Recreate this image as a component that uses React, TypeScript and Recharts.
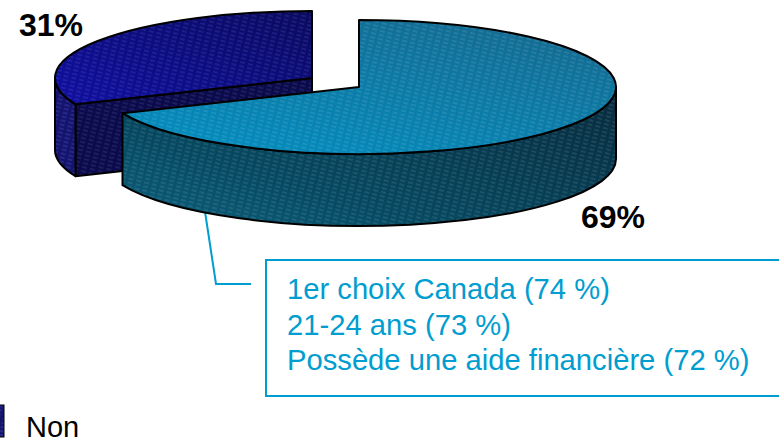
import { PieChart, Pie } from 'recharts';

const categories = ['Non', 'Oui'];
// estimated so the cut edges land where the picture has them; printed labels are rounded
const shares = [31.4, 68.6];
const shareLabels = ['31%', '69%'];
const calloutLines = ['1er choix Canada (74 %)', '21-24 ans (73 %)', 'Possède une aide financière (72 %)'];

const RY_RATIO = 67 / 257;
const DEPTH = 72;
const FONT = '"Liberation Sans", Arial, sans-serif';
const CALLOUT = '#009DD0';
const RAD = Math.PI / 180;

const chartData = categories.map((name, i) => ({ name, value: shares[i] }));
const startAngle = 90 + shares[0] * 3.6;

// the Non slice is pulled away from the centre
const explode = [{ dx: -47, dy: -9 }, { dx: 0, dy: 0 }];
const labelPos = [{ x: 51, y: 36 }, { x: 613, y: 228 }];
const paints = [
  { top: 'url(#topNon)', wall: 'url(#wallNon)' },
  { top: 'url(#topOui)', wall: 'url(#wallOui)' },
];

// squashed circle, angles as recharts gives them (counter-clockwise from 3 o'clock)
const pt = (cx: number, cy: number, r: number, a: number, dy = 0) => ({
  x: cx + r * Math.cos(a * RAD),
  y: cy - r * RY_RATIO * Math.sin(a * RAD) + dy,
});

const arc = (cx: number, cy: number, r: number, from: number, to: number, dy = 0) => {
  const end = pt(cx, cy, r, to, dy);
  const large = Math.abs(from - to) > 180 ? 1 : 0;
  const sweep = to < from ? 1 : 0;
  return `A${r} ${r * RY_RATIO} 0 ${large} ${sweep} ${end.x} ${end.y}`;
};

const wallPath = (ox: number, oy: number, r: number, from: number, to: number) => {
  const ps = pt(ox, oy, r, from);
  const pe = pt(ox, oy, r, to);
  return (
    `M${ps.x} ${ps.y}` + arc(ox, oy, r, from, to) +
    `L${pe.x} ${pe.y + DEPTH}` + arc(ox, oy, r, to, from, DEPTH) + 'Z'
  );
};

const Slice3D = (props: any) => {
  const { cx, cy, outerRadius: r, startAngle: sa, endAngle: ea, index } = props;
  const ox = cx + explode[index].dx;
  const oy = cy + explode[index].dy;
  const p = paints[index];
  const a = pt(ox, oy, r, sa);
  const stroke = { stroke: '#000', strokeWidth: 2, strokeLinejoin: 'round' as const };

  const topPath = `M${ox} ${oy}L${a.x} ${a.y}` + arc(ox, oy, r, sa, ea) + 'Z';

  if (index === 0) {
    // Non: outer wall from the left extreme to the cut, plus the cut face towards the centre
    const cutPath = `M${ox} ${oy}L${a.x} ${a.y}L${a.x} ${a.y + DEPTH}L${ox} ${oy + DEPTH}Z`;
    return (
      <g>
        <path d={cutPath} fill="url(#cutNon)" {...stroke} />
        <path d={wallPath(ox, oy, r, 180, sa)} fill={p.wall} {...stroke} />
        <path d={topPath} fill={p.top} {...stroke} />
      </g>
    );
  }
  return (
    <g>
      <path d={wallPath(ox, oy, r, 0, ea)} fill={p.wall} {...stroke} />
      <path d={topPath} fill={p.top} {...stroke} />
    </g>
  );
};

const PctLabel = (props: any) => {
  const { index } = props;
  return (
    <text
      x={labelPos[index].x}
      y={labelPos[index].y}
      textAnchor="middle"
      fontFamily={FONT}
      fontWeight="bold"
      fontSize={32}
      fill="#000"
    >
      {shareLabels[index]}
    </text>
  );
};

const hatch = (id: string, base: string, line: string) => (
  <pattern id={id} width="8" height="4" patternUnits="userSpaceOnUse" patternTransform="rotate(14)">
    <rect width="8" height="4" fill={base} />
    <line x1="0" y1="2" x2="5" y2="2" stroke={line} strokeWidth="1" />
  </pattern>
);

export default function App() {
  return (
    <div style={{ position: 'absolute', left: 0, top: 0, width: 779, height: 441, overflow: 'hidden', background: '#fff' }}>
      <PieChart width={779} height={441} margin={{ top: 0, right: 0, bottom: 0, left: 0 }}>
        <defs>
          <linearGradient id="gTopOui" x1="0" y1="1" x2="0.6" y2="0">
            <stop offset="0" stopColor="#0094c8" />
            <stop offset="1" stopColor="#146a90" />
          </linearGradient>
          <linearGradient id="gWallOui" x1="0" y1="1" x2="1" y2="0">
            <stop offset="0" stopColor="#0e6686" />
            <stop offset="0.35" stopColor="#064a62" />
            <stop offset="1" stopColor="#08283a" />
          </linearGradient>
          <linearGradient id="gTopNon" x1="0" y1="1" x2="1" y2="0">
            <stop offset="0" stopColor="#1010a4" />
            <stop offset="1" stopColor="#0a0a58" />
          </linearGradient>
          <pattern id="lineLight" width="8" height="4" patternUnits="userSpaceOnUse" patternTransform="rotate(14)">
            <line x1="0" y1="2" x2="5" y2="2" stroke="#ffffff" strokeOpacity="0.18" strokeWidth="1" />
          </pattern>
          <pattern id="lineBlue" width="8" height="4" patternUnits="userSpaceOnUse" patternTransform="rotate(14)">
            <line x1="0" y1="2" x2="5" y2="2" stroke="#8080ff" strokeOpacity="0.3" strokeWidth="1" />
          </pattern>
          <pattern id="topOui" width="779" height="441" patternUnits="userSpaceOnUse">
            <rect x="100" y="0" width="530" height="170" fill="url(#gTopOui)" />
            <rect x="100" y="0" width="530" height="170" fill="url(#lineLight)" />
          </pattern>
          <pattern id="wallOui" width="779" height="441" patternUnits="userSpaceOnUse">
            <rect x="100" y="80" width="530" height="160" fill="url(#gWallOui)" />
            <rect x="100" y="80" width="530" height="160" fill="url(#lineLight)" />
          </pattern>
          <pattern id="topNon" width="779" height="441" patternUnits="userSpaceOnUse">
            <rect x="50" y="0" width="270" height="110" fill="url(#gTopNon)" />
            <rect x="50" y="0" width="270" height="110" fill="url(#lineBlue)" />
          </pattern>
          {hatch('cutNon', '#0b0b4c', '#2c2c74')}
          {hatch('wallNon', '#14146c', '#3a3aa8')}
        </defs>
        <Pie
          data={chartData}
          dataKey="value"
          nameKey="name"
          cx={359}
          cy={87}
          outerRadius={257}
          startAngle={startAngle}
          endAngle={startAngle - 360}
          stroke="none"
          shape={Slice3D}
          label={PctLabel}
          labelLine={false}
          isAnimationActive={false}
        />
        <polyline points="204,205 216,284 251,284" fill="none" stroke={CALLOUT} strokeWidth={2} />
        <rect x={266} y={260} width={540} height={136} fill="#fff" stroke={CALLOUT} strokeWidth={2} />
        {calloutLines.map((line, i) => (
          <text key={line} x={287} y={299 + i * 35.5} fontFamily={FONT} fontSize={29.2} fill={CALLOUT}>
            {line}
          </text>
        ))}
        <rect x={-4} y={405} width={8} height={32} fill="url(#wallNon)" stroke="#000" strokeWidth={1} />
        <text x={26} y={437} fontFamily={FONT} fontSize={29} fill="#000">
          {categories[0]}
        </text>
      </PieChart>
    </div>
  );
}
